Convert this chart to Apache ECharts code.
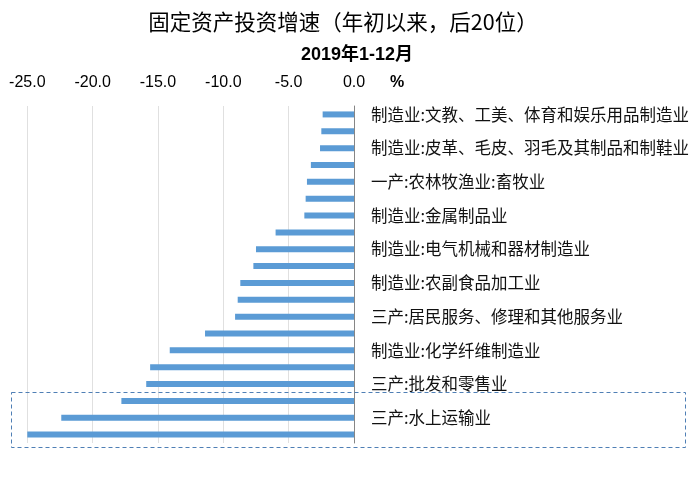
<!DOCTYPE html>
<html>
<head>
<meta charset="utf-8">
<script src="https://cdn.jsdelivr.net/npm/echarts@6/dist/echarts.min.js"></script>
<style>html,body{margin:0;padding:0;background:#fff;}#c{width:700px;height:487px;}</style>
</head>
<body>
<div id="c"></div>
<script>
const titleText = '固定资产投资增速（年初以来，后20位）';
const subTitleText = '2019年1-12月';
const unitText = '%';
const categories = [
  '制造业:文教、工美、体育和娱乐用品制造业',
  '制造业:纺织服装、服饰业',
  '制造业:皮革、毛皮、羽毛及其制品和制鞋业',
  '制造业:家具制造业',
  '一产:农林牧渔业:畜牧业',
  '制造业:食品制造业',
  '制造业:金属制品业',
  '制造业:造纸和纸制品业',
  '制造业:电气机械和器材制造业',
  '制造业:酒、饮料和精制茶制造业',
  '制造业:农副食品加工业',
  '制造业:纺织业',
  '三产:居民服务、修理和其他服务业',
  '三产:道路运输业',
  '制造业:化学纤维制造业',
  '制造业:烟草制品业',
  '三产:批发和零售业',
  '三产:航空运输业',
  '三产:水上运输业',
  '三产:管道运输业'
];
const values = [-2.4, -2.5, -2.6, -3.3, -3.6, -3.7, -3.8, -6.0, -7.5, -7.7, -8.7, -8.9, -9.1, -11.4, -14.1, -15.6, -15.9, -17.8, -22.4, -25.0];
const xMin = -25, xMax = 0, xStep = 5;
const highlightFrom = 17, highlightTo = 19;

const chart = echarts.init(document.getElementById('c'), null, {renderer: 'canvas'});
const textGraphics = [
  {type: 'text', x: 343, y: 22, style: {text: titleText, fontSize: 21.5, fontFamily: 'Noto Sans CJK SC, sans-serif', fill: '#000', align: 'center', verticalAlign: 'middle'}},
  {type: 'text', x: 357, y: 55, style: {text: subTitleText, fontSize: 18, fontWeight: 'bold', fontFamily: 'Liberation Sans, Noto Sans CJK SC, sans-serif', fill: '#000', align: 'center', verticalAlign: 'middle'}},
  {type: 'text', x: 397, y: 83, style: {text: unitText, fontSize: 16, fontWeight: 'bold', fontFamily: 'Liberation Sans, Arial, sans-serif', fill: '#000', align: 'center', verticalAlign: 'middle'}}
];
chart.setOption({
  animation: false,
  backgroundColor: '#fff',
  grid: {left: 27.3, right: 346, top: 106, bottom: 44, containLabel: false},
  xAxis: {
    type: 'value', position: 'top', min: xMin, max: xMax, interval: xStep,
    axisLine: {show: false}, axisTick: {show: false},
    axisLabel: {margin: 15, fontSize: 16, color: '#000', fontFamily: 'Liberation Sans, Arial, sans-serif',
      formatter: v => v.toFixed(1)},
    splitLine: {show: true, lineStyle: {color: '#e0e0e0', width: 1}}
  },
  yAxis: {
    type: 'category', data: categories, inverse: true, position: 'right',
    axisLine: {show: true, onZero: false, lineStyle: {color: '#868686', width: 1}},
    axisTick: {show: false},
    splitLine: {show: false},
    axisLabel: {interval: 1, margin: 17, fontSize: 16.5, color: '#111',
      fontFamily: 'Noto Sans CJK SC, sans-serif', padding: [4, 0, 0, 0]}
  },
  series: [{
    type: 'bar', data: values, barWidth: 6,
    itemStyle: {color: '#5b9bd5'}
  }],
  graphic: textGraphics
});

// dashed box around the highlighted categories
const yTop = chart.convertToPixel({yAxisIndex: 0}, highlightFrom);
const yBot = chart.convertToPixel({yAxisIndex: 0}, highlightTo);
const band = (yBot - yTop) / (highlightTo - highlightFrom);
const boxTop = yTop - band / 2;
const boxBot = yBot + band / 2 + 4;
chart.setOption({
  graphic: textGraphics.concat([
    {type: 'rect', shape: {x: 11.5, y: Math.round(boxTop) + 0.5, width: 674, height: Math.round(boxBot - boxTop)},
      style: {fill: 'none', stroke: '#4f7fb5', lineWidth: 1, lineDash: [4, 3]}, z: 10}
  ])
});
</script>
</body>
</html>
